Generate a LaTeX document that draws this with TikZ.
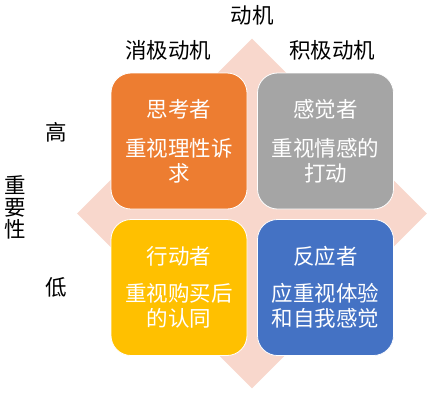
\documentclass[tikz,border=0pt]{standalone}
\usepackage{fontspec}
\setmainfont{Noto Sans CJK SC}
\usetikzlibrary{shapes.geometric}
\definecolor{diafill}{HTML}{F8D7CC}
\definecolor{qorange}{HTML}{ED7D31}
\definecolor{qgray}{HTML}{A5A5A5}
\definecolor{qyellow}{HTML}{FFC000}
\definecolor{qblue}{HTML}{4472C4}
\tikzset{
  quad/.style={draw=white, line width=0.8pt, rounded corners=20pt,
    minimum width=136pt, minimum height=136pt, inner sep=0pt,
    text=white, align=center,
    font=\fontsize{21.5pt}{25pt}\selectfont},
  lbl/.style={text=black, inner sep=0pt, align=center,
    font=\fontsize{21.5pt}{22pt}\selectfont},
}
\begin{document}
\begin{tikzpicture}[x=1pt,y=-1pt]
\useasboundingbox (0,0) rectangle (444,402);
\node (dia) at (252,213.5) [diamond, aspect=1, fill=diafill, inner sep=0pt,
  minimum width=350pt, minimum height=350pt] {};
\node (think) at (179,141) [quad, fill=qorange] {思考者\\[14pt]重视理性诉\\求};
\node (feel)  at (325.5,141) [quad, fill=qgray] {感觉者\\[14pt]重视情感的\\打动};
\node (act)   at (179,287.5) [quad, fill=qyellow] {行动者\\[12pt]重视购买后\\的认同};
\node (react) at (325.5,287.5) [quad, fill=qblue] {反应者\\[12pt]应重视体验\\和自我感觉};
\node (motive) at (252,15) [lbl] {动机};
\node (neg) at (168,50) [lbl] {消极动机};
\node (pos) at (332,50) [lbl] {积极动机};
\node (high) at (56,132) [lbl] {高};
\node (low) at (56,287) [lbl] {低};
\node (imp) at (15,207) [lbl] {重\\要\\性};
\end{tikzpicture}
\end{document}
